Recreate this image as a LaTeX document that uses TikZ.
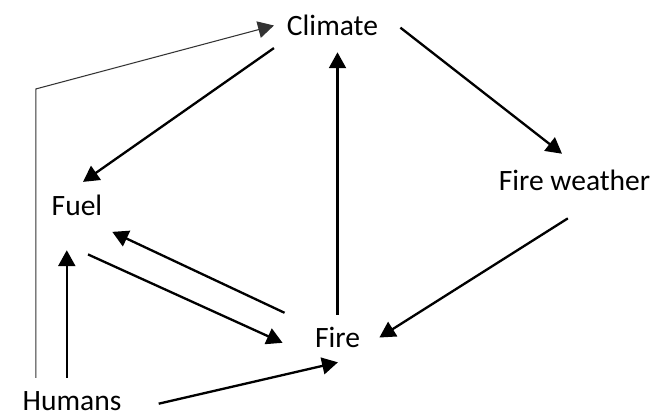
\documentclass[tikz,border=0pt]{standalone}
\usepackage{fontspec}
\setmainfont{Carlito}
\usetikzlibrary{arrows.meta}
\tikzset{
  lbl/.style={font=\fontsize{14}{16}\selectfont, text height=9pt, text depth=0pt,
    inner xsep=6pt, inner ysep=6pt, anchor=base},
  arr/.style={-{Triangle[length=7.5pt,width=8pt]}, line width=1.1pt},
  thinarr/.style={-{Triangle[length=7.5pt,width=8pt]}, line width=0.5pt, black!80}
}
\begin{document}
\begin{tikzpicture}[x=0.016667cm, y=-0.016667cm]
	\useasboundingbox (0,0) rectangle (661,412);
	% factors
	\node[lbl] (climate) at (332.5,35) {Climate};
	\node[lbl, inner ysep=8pt] (fireweather) at (574.5,190) {Fire weather};
	\node[lbl, inner xsep=3pt, text depth=10pt, inner ysep=6.5pt] (fuel) at (77,215) {Fuel};
	\node[lbl, inner xsep=9pt] (fire) at (337.5,347) {Fire};
	\node[lbl] (humans) at (72,410) {Humans};
	% links
	\draw[thinarr] (humans.148) -- ++(0,-289) -- (climate.west);
	\draw[arr] (climate.south west) -- (fuel.80);
	\draw[arr, shorten <=5.6pt] (climate.5) -- (fireweather.115);
	\draw[arr, shorten <=9.8pt] (fireweather.292) -- (fire.east);
	\draw[arr, shorten >=2pt] (fire.north) -- (fire.north |- climate.south);
	\draw[arr, shorten <=4.8pt, shorten >=6.8pt] (fuel.273) -- (fire.195);
	\draw[arr, shorten <=5.8pt, shorten >=1.7pt] (fire.155) -- (fuel.336);
	\draw[arr] (humans.103) -- (humans.103 |- fuel.south);
	\draw[arr, shorten <=11.8pt, shorten >=4.7pt] (humans.352) -- (fire.294);
\end{tikzpicture}
\end{document}
